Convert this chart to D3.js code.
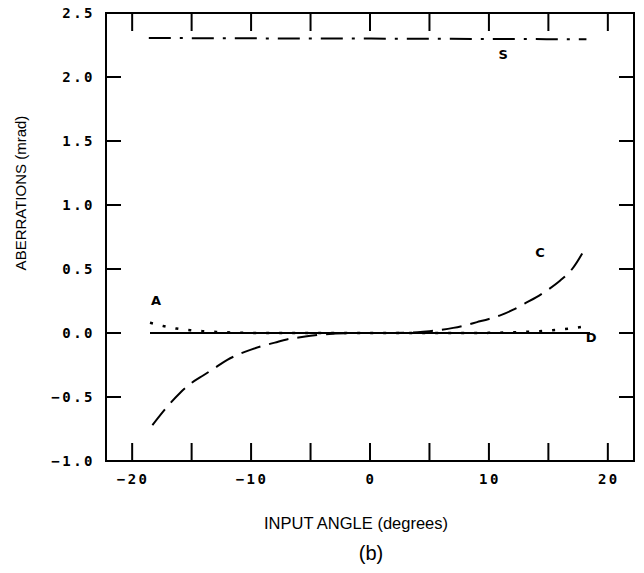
<!DOCTYPE html>
<html>
<head>
<meta charset="utf-8">
<script src="https://cdn.jsdelivr.net/npm/d3@7"></script>
<style>
  body { margin: 0; background: #fff; }
  .tick-label { font-family: "DejaVu Sans Mono", monospace; font-weight: bold; font-size: 14px; letter-spacing: 2.5px; }
  .axis-title { font-family: "Liberation Sans", Arial, sans-serif; }
  .curve-label { font-family: "DejaVu Sans", sans-serif; font-weight: bold; font-size: 13px; }
</style>
</head>
<body>
<div id="chart"></div>
<script>
let width = 644;
let height = 573;
let margin = {top: 13, right: 10, bottom: 112, left: 106};

// data (x in degrees, y in mrad)
const xS = [-18.6, -10, 0, 10, 18.2];
const yS = [2.305, 2.302, 2.30, 2.297, 2.295];
const xD = [-18.5, 18.5];
const yD = [0, 0];
const xA = [-18.5, -17.4, -16.3, -15.1, -14, -12.9, -11.6, -10, -8, 0, 8, 10, 11.6, 12.9, 14, 15.1, 16.3, 17.4, 18.5];
const yA = [0.08, 0.055, 0.035, 0.022, 0.014, 0.008, 0.004, 0.001, 0, 0, 0, 0.001, 0.004, 0.008, 0.013, 0.02, 0.03, 0.042, 0.06];
const xC = [-18.3, -17, -16, -15, -14, -13, -12, -11, -10, -9, -8, -7, -6, -5, -4, -2, 0, 2, 4, 5, 6, 7, 8, 9, 10, 11, 12, 13, 14, 15, 16, 17, 18.2];
const yC = [-0.72, -0.57, -0.47, -0.39, -0.33, -0.27, -0.21, -0.165, -0.13, -0.10, -0.075, -0.05, -0.035, -0.022, -0.012, -0.002, 0, 0, 0.006, 0.014, 0.025, 0.04, 0.06, 0.085, 0.11, 0.14, 0.18, 0.23, 0.28, 0.34, 0.41, 0.50, 0.68];

const xTicks = [-20, -15, -10, -5, 0, 5, 10, 15, 20];
const xTickLabels = [-20, -10, 0, 10, 20];
const yTicks = [-1.0, -0.5, 0.0, 0.5, 1.0, 1.5, 2.0, 2.5];

const labels = [
  {t: "S", x: 11.2, y: 2.17},
  {t: "C", x: 14.3, y: 0.62},
  {t: "A", x: -18.0, y: 0.245},
  {t: "D", x: 18.6, y: -0.04}
];

let svg = d3.select("#chart").append("svg")
  .attr("width", width).attr("height", height);

let x = d3.scaleLinear().domain([-22.2, 22.2]).range([margin.left, width - margin.right]);
let y = d3.scaleLinear().domain([-1.0, 2.5]).range([height - margin.bottom, margin.top]);

let g = svg.append("g");

// frame
g.append("rect")
  .attr("x", x(-22.2)).attr("y", y(2.5))
  .attr("width", x(22.2) - x(-22.2)).attr("height", y(-1.0) - y(2.5))
  .attr("fill", "none").attr("stroke", "#000").attr("stroke-width", 2);

// inner ticks on all four sides
xTicks.forEach(v => {
  g.append("line").attr("x1", x(v)).attr("x2", x(v)).attr("y1", y(-1.0)).attr("y2", y(-1.0) - 18)
    .attr("stroke", "#000").attr("stroke-width", 2);
  g.append("line").attr("x1", x(v)).attr("x2", x(v)).attr("y1", y(2.5)).attr("y2", y(2.5) + 18)
    .attr("stroke", "#000").attr("stroke-width", 2);
});
yTicks.slice(1, -1).forEach(v => {
  g.append("line").attr("x1", x(-22.2)).attr("x2", x(-22.2) + 15).attr("y1", y(v)).attr("y2", y(v))
    .attr("stroke", "#000").attr("stroke-width", 2);
  g.append("line").attr("x1", x(22.2)).attr("x2", x(22.2) - 15).attr("y1", y(v)).attr("y2", y(v))
    .attr("stroke", "#000").attr("stroke-width", 2);
});

// tick labels
g.selectAll(".xl").data(xTickLabels).enter().append("text")
  .attr("class", "tick-label")
  .attr("x", d => x(d) + 1).attr("y", y(-1.0) + 23)
  .attr("text-anchor", "middle")
  .text(d => d < 0 ? "\u2212" + Math.abs(d) : d);
g.selectAll(".yl").data(yTicks).enter().append("text")
  .attr("class", "tick-label")
  .attr("x", x(-22.2) - 11).attr("y", d => y(d) + 5)
  .attr("text-anchor", "end")
  .text(d => (d < 0 ? "\u2212" : "") + Math.abs(d).toFixed(1));

// axis titles
svg.append("text").attr("class", "axis-title")
  .attr("x", 356).attr("y", 529).attr("text-anchor", "middle")
  .style("font-size", "16.5px")
  .text("INPUT ANGLE (degrees)");
svg.append("text").attr("class", "axis-title")
  .attr("transform", "translate(26,193) rotate(-90)")
  .attr("text-anchor", "middle")
  .style("font-size", "15px")
  .text("ABERRATIONS (mrad)");
svg.append("text").attr("class", "axis-title")
  .attr("x", 371).attr("y", 560).attr("text-anchor", "middle")
  .style("font-size", "20px")
  .text("(b)");

// curves
let line = d3.line().x(d => x(d[0])).y(d => y(d[1])).curve(d3.curveMonotoneX);
let zip = (a, b) => a.map((v, i) => [v, b[i]]);

g.append("path").attr("d", line(zip(xD, yD)))
  .attr("fill", "none").attr("stroke", "#000").attr("stroke-width", 2);
g.append("path").attr("d", line(zip(xS, yS)))
  .attr("fill", "none").attr("stroke", "#000").attr("stroke-width", 2)
  .attr("stroke-dasharray", "22,9,3,9");
g.append("path").attr("d", line(zip(xC, yC)))
  .attr("fill", "none").attr("stroke", "#000").attr("stroke-width", 2)
  .attr("stroke-dasharray", "20,9");
g.append("path").attr("d", line(zip(xA, yA)))
  .attr("fill", "none").attr("stroke", "#000").attr("stroke-width", 2.5)
  .attr("stroke-dasharray", "3,10");

// curve labels
g.selectAll(".cl").data(labels).enter().append("text")
  .attr("class", "curve-label")
  .attr("x", d => x(d.x)).attr("y", d => y(d.y))
  .attr("text-anchor", "middle").attr("dominant-baseline", "middle")
  .text(d => d.t);
</script>
</body>
</html>
